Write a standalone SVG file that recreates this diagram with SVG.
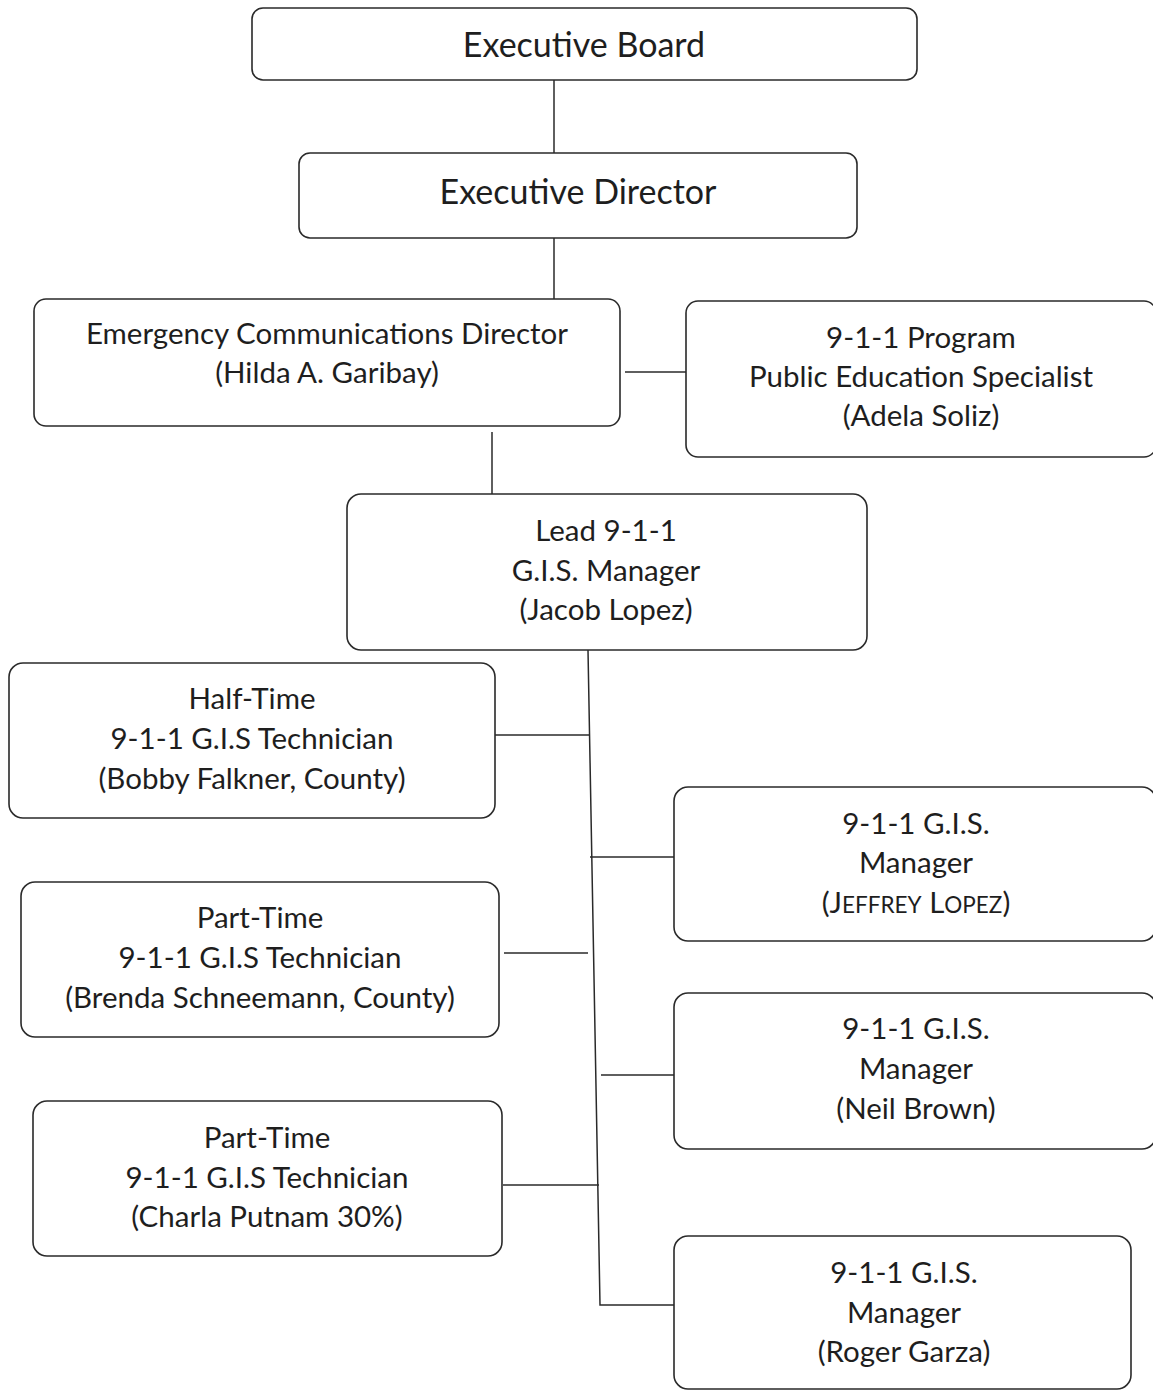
<svg xmlns="http://www.w3.org/2000/svg" width="1153" height="1391" viewBox="0 0 1153 1391">
<style>
.box{fill:#fff;stroke:#2a2a2a;stroke-width:1.6}
.t{font-family:Lato,"Open Sans","Liberation Sans",sans-serif;font-size:29.5px;fill:#1e1e1e;text-anchor:middle}
.big{font-size:34px}
.sc{font-size:22.5px}
.c{stroke:#2a2a2a;stroke-width:1.5;fill:none}
</style>
<rect width="1153" height="1391" fill="#fff"/>
<g id="connectors">
<line class="c" x1="554" y1="80" x2="554" y2="153"/>
<line class="c" x1="554" y1="238" x2="554" y2="299"/>
<line class="c" x1="625" y1="372" x2="686" y2="372"/>
<line class="c" x1="492" y1="432" x2="492" y2="494"/>
<polyline class="c" points="588,650 600,1305 674,1305"/>
<line class="c" x1="493" y1="735" x2="590" y2="735"/>
<line class="c" x1="590" y1="857" x2="674" y2="857"/>
<line class="c" x1="504" y1="953" x2="588" y2="953"/>
<line class="c" x1="601" y1="1075" x2="674" y2="1075"/>
<line class="c" x1="503" y1="1185" x2="599" y2="1185"/>
</g>
<g id="executive-board"><rect class="box" x="252" y="8" width="665" height="72" rx="11"/><text class="t big" x="584" y="57">Executive Board</text></g>
<g id="executive-director"><rect class="box" x="299" y="153" width="558" height="85" rx="11"/><text class="t big" x="578" y="204">Executive Director</text></g>
<g id="ecd"><rect class="box" x="34" y="299" width="586" height="127" rx="12"/><text class="t" x="327" y="344">Emergency Communications Director</text><text class="t" x="327" y="383">(Hilda A. Garibay)</text></g>
<g id="public-ed"><rect class="box" x="686" y="301" width="470" height="156" rx="12"/><text class="t" x="921" y="348">9-1-1 Program</text><text class="t" x="921" y="387">Public Education Specialist</text><text class="t" x="921" y="426">(Adela Soliz)</text></g>
<g id="lead"><rect class="box" x="347" y="494" width="520" height="156" rx="14"/><text class="t" x="606" y="541">Lead 9-1-1</text><text class="t" x="606" y="581">G.I.S. Manager</text><text class="t" x="606" y="620">(Jacob Lopez)</text></g>
<g id="half-time"><rect class="box" x="9" y="663" width="486" height="155" rx="14"/><text class="t" x="252" y="709">Half-Time</text><text class="t" x="252" y="749">9-1-1 G.I.S Technician</text><text class="t" x="252" y="789">(Bobby Falkner, County)</text></g>
<g id="jeffrey"><rect class="box" x="674" y="787" width="482" height="154" rx="14"/><text class="t" x="916" y="834">9-1-1 G.I.S.</text><text class="t" x="916" y="873">Manager</text><text class="t" x="916" y="913">(J<tspan class="sc">EFFREY</tspan> L<tspan class="sc">OPEZ</tspan>)</text></g>
<g id="brenda"><rect class="box" x="21" y="882" width="478" height="155" rx="14"/><text class="t" x="260" y="928">Part-Time</text><text class="t" x="260" y="968">9-1-1 G.I.S Technician</text><text class="t" x="260" y="1008">(Brenda Schneemann, County)</text></g>
<g id="neil"><rect class="box" x="674" y="993" width="482" height="156" rx="14"/><text class="t" x="916" y="1039">9-1-1 G.I.S.</text><text class="t" x="916" y="1079">Manager</text><text class="t" x="916" y="1119">(Neil Brown)</text></g>
<g id="charla"><rect class="box" x="33" y="1101" width="469" height="155" rx="14"/><text class="t" x="267" y="1148">Part-Time</text><text class="t" x="267" y="1188">9-1-1 G.I.S Technician</text><text class="t" x="267" y="1227">(Charla Putnam 30%)</text></g>
<g id="roger"><rect class="box" x="674" y="1236" width="457" height="153" rx="14"/><text class="t" x="904" y="1283">9-1-1 G.I.S.</text><text class="t" x="904" y="1323">Manager</text><text class="t" x="904" y="1362">(Roger Garza)</text></g>
</svg>
